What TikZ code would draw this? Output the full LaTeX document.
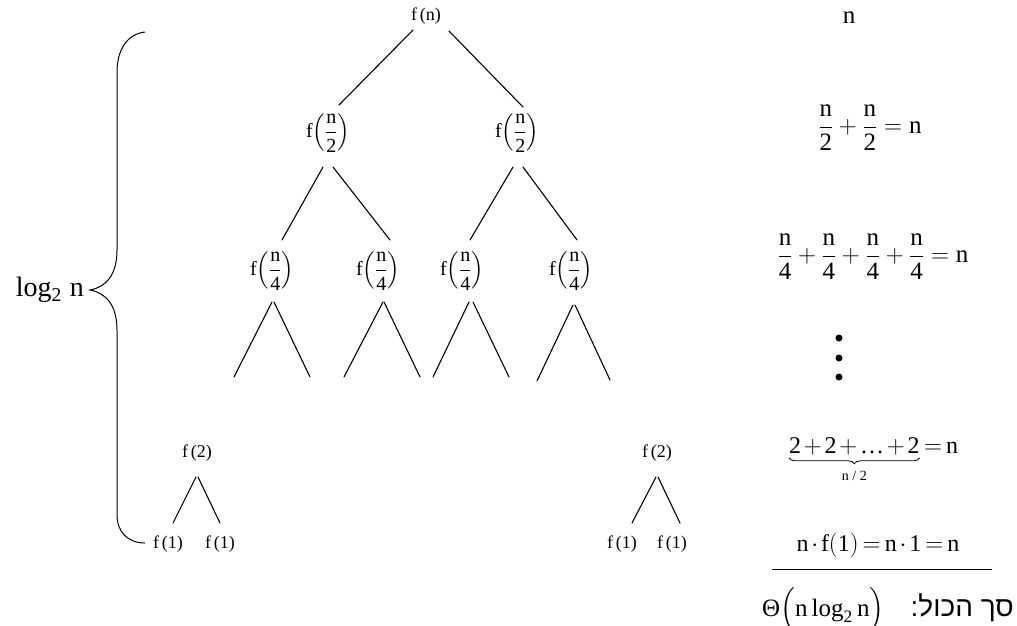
\documentclass[tikz,border=0pt]{standalone}
\usepackage{amsmath}
\usepackage{fontspec}
\usetikzlibrary{decorations.pathreplacing}
\setmainfont{Liberation Serif}
\newfontfamily\hebfont[Script=Hebrew]{Liberation Sans}
\TeXXeTstate=1
\newcommand{\rn}{\textrm{n}}
\newcommand{\rfrac}[2]{\dfrac{\textrm{#1}}{\textrm{#2}}}
\begin{document}
\begin{tikzpicture}[x=1pt,y=-1pt,
  lbl/.style={font=\fontsize{18}{20}\selectfont, inner sep=0pt},
  frl/.style={font=\fontsize{20}{22}\selectfont, inner sep=0pt},
  big/.style={font=\fontsize{25}{28}\selectfont, inner sep=0pt},
  mid/.style={font=\fontsize{24}{26}\selectfont, inner sep=0pt},
  edge/.style={line width=1.1pt, line cap=round},
  dotmark/.style={fill=black, draw=none, circle, minimum size=7pt, inner sep=0pt}]
\useasboundingbox (0,0) rectangle (1017,625);

% tree nodes
\node[lbl] (r)  at (426,16) {f\,(n)};
\node[frl] (a1) at (328,133) {f$\left(\rfrac{n}{2}\right)$};
\node[frl] (a2) at (517,133) {f$\left(\rfrac{n}{2}\right)$};
\node[frl] (b1) at (272,271) {f$\left(\rfrac{n}{4}\right)$};
\node[frl] (b2) at (378,271) {f$\left(\rfrac{n}{4}\right)$};
\node[frl] (b3) at (462,271) {f$\left(\rfrac{n}{4}\right)$};
\node[frl] (b4) at (571,271) {f$\left(\rfrac{n}{4}\right)$};
\node[lbl] (c1) at (197,453) {f\,(2)};
\node[lbl] (d1) at (168,544) {f\,(1)};
\node[lbl] (d2) at (220,544) {f\,(1)};
\node[lbl] (c2) at (657,453) {f\,(2)};
\node[lbl] (d3) at (622,544) {f\,(1)};
\node[lbl] (d4) at (672,544) {f\,(1)};

% open ends of level 3
\coordinate (e1) at (234,377); \coordinate (e2) at (310,377);
\coordinate (e3) at (344,377); \coordinate (e4) at (420,377);
\coordinate (e5) at (433,377); \coordinate (e6) at (509,377);
\coordinate (e7) at (537,381); \coordinate (e8) at (610,380);

% edges
\draw[edge] ([shift={(-13,14)}]r.center) -- ([shift={(11,-28)}]a1.center);
\draw[edge] ([shift={(23,15)}]r.center) -- ([shift={(6,-26)}]a2.center);
\draw[edge] ([shift={(-5,34)}]a1.center) -- ([shift={(10,-31)}]b1.center);
\draw[edge] ([shift={(5,34)}]a1.center) -- ([shift={(12,-31)}]b2.center);
\draw[edge] ([shift={(-4,34)}]a2.center) -- ([shift={(8,-31)}]b3.center);
\draw[edge] ([shift={(6,34)}]a2.center) -- ([shift={(6,-31)}]b4.center);
\draw[edge] ([shift={(0,31)}]b1.center) -- (e1);
\draw[edge] ([shift={(2,31)}]b1.center) -- (e2);
\draw[edge] ([shift={(5,31)}]b2.center) -- (e3);
\draw[edge] ([shift={(6,31)}]b2.center) -- (e4);
\draw[edge] ([shift={(7,31)}]b3.center) -- (e5);
\draw[edge] ([shift={(11,31)}]b3.center) -- (e6);
\draw[edge] ([shift={(2,34)}]b4.center) -- (e7);
\draw[edge] ([shift={(4,34)}]b4.center) -- (e8);
\draw[edge] ([shift={(-1,24)}]c1.center) -- ([shift={(5,-21)}]d1.center);
\draw[edge] ([shift={(1,24)}]c1.center) -- ([shift={(0,-21)}]d2.center);
\draw[edge] ([shift={(-1,24)}]c2.center) -- ([shift={(10,-21)}]d3.center);
\draw[edge] ([shift={(1,24)}]c2.center) -- ([shift={(8,-21)}]d4.center);

% brace
\node[font=\fontsize{28}{30}\selectfont, inner sep=0pt, anchor=east] (lg) at (84,290) {log$_{\textrm{2}}$\;n};
\coordinate (tip) at (90,290);
\coordinate (bt) at (145,32);
\coordinate (bb) at (145,543);
\draw[line width=1pt] (bt) .. controls (127,34) and (117,50) .. (117,72) -- (117,250)
  .. controls (117,275) and (106,287) .. (tip)
  .. controls (106,293) and (117,305) .. (117,330) -- (117,515)
  .. controls (117,532) and (128,543) .. (bb);

% right column
\node[big] (s0) at (849,18) {n};
\node[big] (s1) at (870,128) {$\rfrac{n}{2}+\rfrac{n}{2}=\rn$};
\node[big] (s2) at (873,257) {$\rfrac{n}{4}+\rfrac{n}{4}+\rfrac{n}{4}+\rfrac{n}{4}=\rn$};
\node[dotmark] (p1) at (839,338) {};
\node[dotmark] (p2) at (839,358) {};
\node[dotmark] (p3) at (839,377) {};
\node[mid, anchor=base west] (s3) at (789,453) {$\textrm{2}\mkern-2mu+\mkern-2mu\textrm{2}\mkern-2mu+\mkern-2mu\textrm{\dots}\mkern-2mu+\mkern-2mu\textrm{2}$};
\node[mid, anchor=base west] (s3e) at (s3.base east) {$\mkern3mu=\mkern-2mu\rn$};
\draw[line width=0.8pt, decorate, decoration={brace, mirror, amplitude=6pt, raise=3pt}] (s3.south west) -- (s3.south east);
\node[font=\fontsize{14}{16}\selectfont, inner sep=0pt, anchor=north] (s3l) at ([yshift=-16pt]s3.south) {n / 2};
\node[mid, anchor=base] (s4) at (878,551) {$\rn\mkern-2mu\cdot\mkern-2mu\textrm{f}(\textrm{1})\mkern-2mu=\mkern-2mu\rn\mkern-2mu\cdot\mkern-2mu\textrm{1}\mkern-2mu=\mkern-2mu\rn$};
\coordinate (l1) at (772,569);
\coordinate (l2) at (992,569);
\draw[line width=1pt] (l1) -- (l2);
\node[big, anchor=base west] (th) at (762,616) {Θ$\Bigl(\rn\,\textrm{log}_{\textrm{2}}\,\rn\Bigr)$};
\node[font=\fontsize{28}{30}\selectfont, inner sep=0pt, anchor=base east] (hb) at (1014,616) {\hebfont\beginR סך הכול:\endR};
\end{tikzpicture}
\end{document}
